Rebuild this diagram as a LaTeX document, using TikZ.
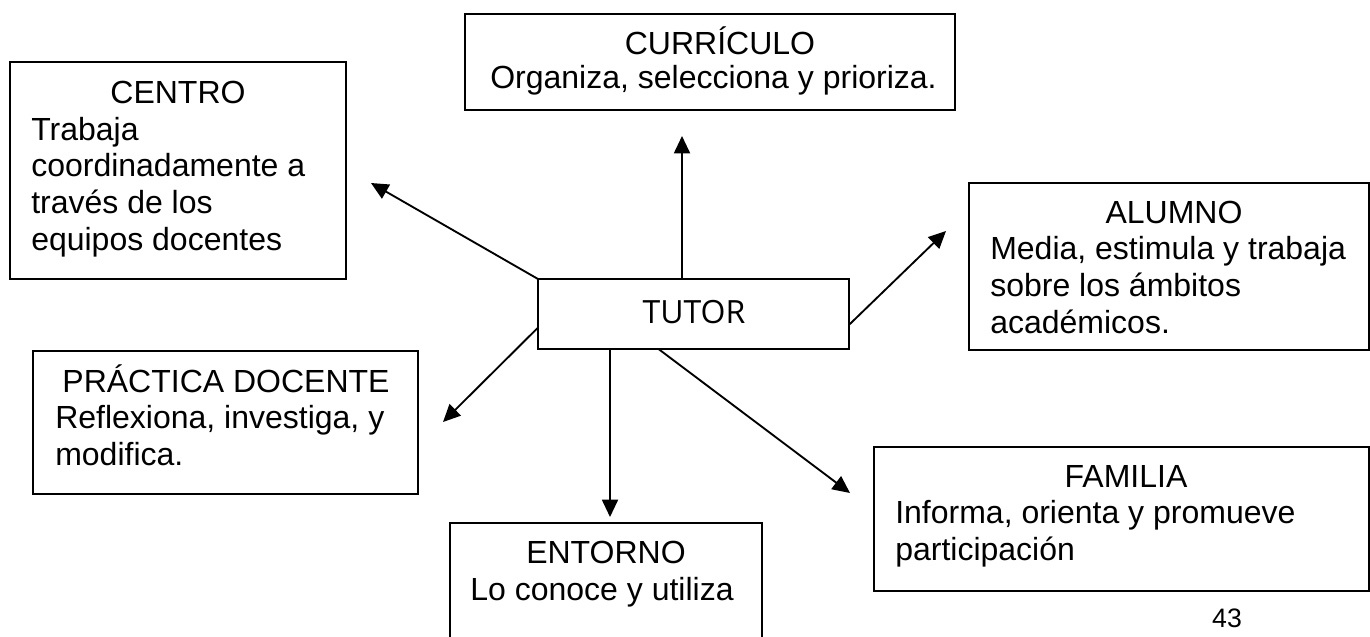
\documentclass[tikz,border=0pt]{standalone}
\usepackage{fontspec}
\setmainfont{Liberation Sans}
\newfontfamily\tutorfont{Open Sans}
\usetikzlibrary{arrows.meta}
\tikzset{
	box/.style={draw, line width=1.4pt, anchor=north west, inner sep=0pt, outer sep=0pt},
	head/.style={anchor=base, inner sep=0pt, font=\fontsize{24}{27.5}\selectfont},
	body/.style={anchor=base west, align=left, inner sep=0pt, font=\fontsize{24}{27.5}\selectfont},
	link/.style={line width=1.4pt, -{Triangle[length=13pt,width=12pt]}}
}
\begin{document}
\begin{tikzpicture}[x=0.75pt,y=-0.75pt]
			\useasboundingbox (0,0) rectangle (1370,636);

			\node[box, minimum width=252pt, minimum height=162.75pt] (centro) at (10,62) {};
			\node[box, minimum width=367.5pt, minimum height=72pt] (curriculo) at (465,14) {};
			\node[box, minimum width=300pt, minimum height=125.25pt] (alumno) at (969,183) {};
			\node[box, minimum width=233.25pt, minimum height=52.5pt] (tutor) at (538,279) {};
			\node[box, minimum width=288.75pt, minimum height=107.25pt] (practica) at (33,351) {};
			\node[box, minimum width=234pt, minimum height=102.75pt] (entorno) at (450,523) {};
			\node[box, minimum width=371.25pt, minimum height=108pt] (familia) at (874,447) {};

			% multi-line texts sit on the baseline of their last line
			\node[head] (centroT) at (178,103) {CENTRO};
			\node[body] (centroB) at (31,250) {Trabaja\\coordinadamente a\\través de los\\equipos docentes};
			\node[head] (curriculoT) at (720,54) {CURRÍCULO};
			\node[body] (curriculoB) at (490,88) {Organiza, selecciona y prioriza.};
			\node[head] (alumnoT) at (1174,223) {ALUMNO};
			\node[body] (alumnoB) at (990,333) {Media, estimula y trabaja\\sobre los ámbitos\\académicos.};
			\node[head, font=\tutorfont\fontsize{24}{27.5}\selectfont] (tutorT) at (694,323) {TUTOR};
			\node[head] (practicaT) at (226,392) {PRÁCTICA DOCENTE};
			\node[body] (practicaB) at (55,465) {Reflexiona, investiga, y\\modifica.};
			\node[head] (entornoT) at (606,563) {ENTORNO};
			\node[head] (entornoB) at (602,600) {Lo conoce y utiliza};
			\node[head] (familiaT) at (1126,487) {FAMILIA};
			\node[body] (familiaB) at (895,560) {Informa, orienta y promueve\\participación};
			\node[head, font=\fontsize{20}{24}\selectfont] (pagina) at (1227,627) {43};

			\coordinate (tipCurriculo) at (682,136);
			\coordinate (tipCentro) at (371,183);
			\coordinate (tipAlumno) at (946,231);
			\coordinate (tipPractica) at (443,422);
			\coordinate (tipEntorno) at (610,517);
			\coordinate (tipFamilia) at (850,493);

			\draw[link] (tutor.north -| tipCurriculo) -- (tipCurriculo);
			\draw[link] (tutor.north west) -- (tipCentro);
			\draw[link] (tutor.-4) -- (tipAlumno);
			\draw[link] (tutor.185) -- (tipPractica);
			\draw[link] (tutor.south -| tipEntorno) -- (tipEntorno);
			\draw[link] (tutor.225) -- (tipFamilia);
		\end{tikzpicture}
\end{document}
